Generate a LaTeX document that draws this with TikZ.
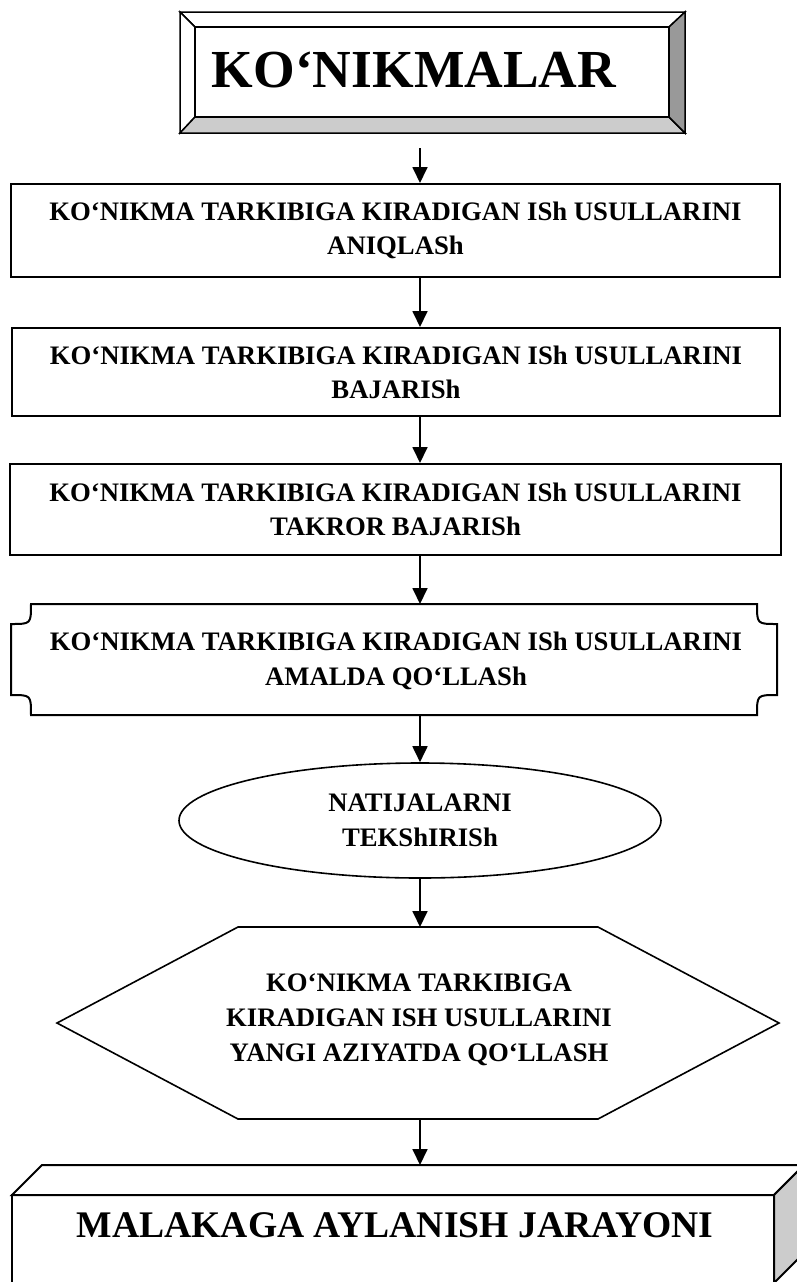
\documentclass[tikz,border=0pt]{standalone}
\usepackage{fontspec}
\setmainfont{Liberation Serif}
\usetikzlibrary{arrows.meta,shapes.geometric}
\definecolor{lightface}{HTML}{CCCCCC}
\definecolor{darkface}{HTML}{999999}
\begin{document}
\begin{tikzpicture}[x=1pt,y=-1pt,
  boxline/.style={draw=black, line width=2pt},
  bevelline/.style={draw=black, line width=1.5pt},
  flowbox/.style={boxline, rectangle, inner sep=0pt, align=center, font=\bfseries\fontsize{26.7}{34}\selectfont},
  flowtext/.style={inner sep=0pt, align=center, font=\bfseries\fontsize{26.7}{35}\selectfont},
  arr/.style={line width=1.8pt, -{Triangle[length=16pt,width=15pt]}},
]
\useasboundingbox (0,0) rectangle (797,1282);
\clip (0,0) rectangle (797,1282);

% ---- bevel title box
\filldraw[bevelline, fill=white] (180,12) -- (685,12) -- (669,27) -- (195,27) -- cycle;
\filldraw[bevelline, fill=white] (180,12) -- (195,27) -- (195,117) -- (180,133) -- cycle;
\filldraw[bevelline, fill=lightface] (180,133) -- (195,117) -- (669,117) -- (685,133) -- cycle;
\filldraw[bevelline, fill=darkface] (685,12) -- (685,133) -- (669,117) -- (669,27) -- cycle;
\draw[bevelline] (195,27) rectangle (669,117);
\node[inner sep=0pt, anchor=base, font=\bfseries\fontsize{53.5}{60}\selectfont] (title) at (414,87) {KO‘NIKMALAR};

\coordinate (axis) at (420,0);
\coordinate (a0) at (420,148);

% ---- rectangles
\node[flowbox, minimum width=769pt, minimum height=93pt] (r1) at (395.5,230.5)
  {KO‘NIKMA TARKIBIGA KIRADIGAN ISh USULLARINI\\ANIQLASh};
\node[flowbox, minimum width=768pt, minimum height=88pt] (r2) at (396,372)
  {KO‘NIKMA TARKIBIGA KIRADIGAN ISh USULLARINI\\BAJARISh};
\node[flowbox, minimum width=771pt, minimum height=91pt] (r3) at (395.5,509.5)
  {KO‘NIKMA TARKIBIGA KIRADIGAN ISh USULLARINI\\TAKROR BAJARISh};

% ---- plaque
\draw[boxline] (31,604) -- (757,604) .. controls (757,624) .. (777,624) -- (777,695)
  .. controls (757,695) .. (757,715) -- (31,715) .. controls (31,695) .. (11,695)
  -- (11,624) .. controls (31,624) .. (31,604) -- cycle;
\node[flowtext] (pl) at (396,661) {KO‘NIKMA TARKIBIGA KIRADIGAN ISh USULLARINI\\AMALDA QO‘LLASh};
\coordinate (ptop) at (420,604);
\coordinate (pbot) at (420,715);

% ---- ellipse
\node[draw, line width=1.6pt, ellipse, minimum width=482pt, minimum height=115pt, flowtext] (el) at (420,820.5)
  {NATIJALARNI\\TEKShIRISh};

% ---- hexagon
\draw[line width=1.6pt] (238,927) -- (598,927) -- (779,1023) -- (598,1119) -- (238,1119) -- (57,1023) -- cycle;
\node[flowtext] (hx) at (419,1020) {KO‘NIKMA TARKIBIGA\\KIRADIGAN ISH USULLARINI\\YANGI AZIYATDA QO‘LLASH};
\coordinate (hxtop) at (420,927);
\coordinate (hxbot) at (420,1119);

% ---- cube
\filldraw[boxline, fill=white] (12,1195) -- (42,1165) -- (804,1165) -- (774,1195) -- cycle;
\filldraw[boxline, fill=lightface] (774,1195) -- (804,1165) -- (804,1253) -- (774,1283) -- cycle;
\draw[boxline] (12,1195) rectangle (774,1283);
\node[inner sep=0pt, anchor=base, font=\bfseries\fontsize{37.6}{40}\selectfont] (mal) at (395,1237) {MALAKAGA AYLANISH JARAYONI};
\coordinate (cubetop) at (420,1165);

% ---- arrows
\draw[arr] (a0) -- (r1.north -| axis);
\draw[arr] (r1.south -| axis) -- (r2.north -| axis);
\draw[arr] (r2.south -| axis) -- (r3.north -| axis);
\draw[arr] (r3.south -| axis) -- (ptop);
\draw[arr] (pbot) -- (el.north);
\draw[arr] (el.south) -- (hxtop);
\draw[arr] (hxbot) -- (cubetop);
\end{tikzpicture}
\end{document}
